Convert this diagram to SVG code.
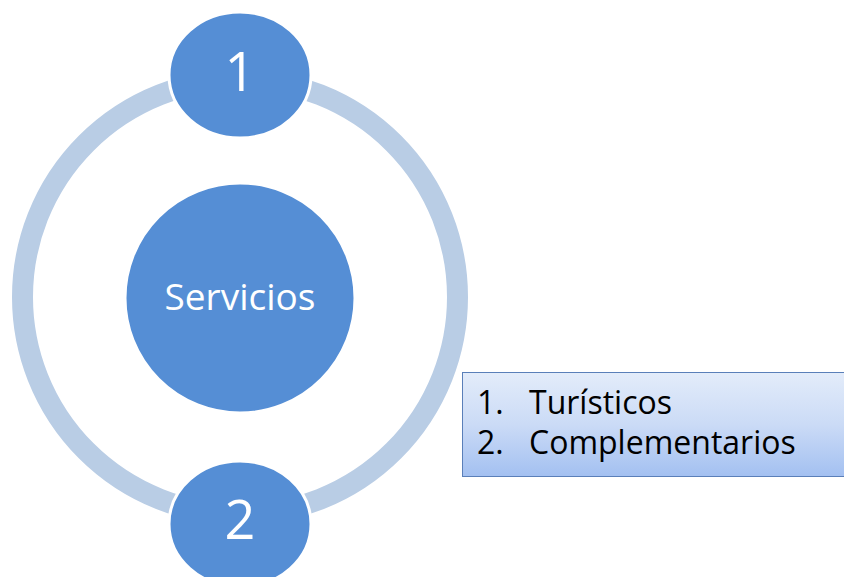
<svg xmlns="http://www.w3.org/2000/svg" width="844" height="577" viewBox="0 0 844 577">
<defs>
<linearGradient id="boxg" x1="0" y1="0" x2="0" y2="1">
<stop offset="0" stop-color="#E3ECFA"/>
<stop offset="0.5" stop-color="#CBDBF6"/>
<stop offset="1" stop-color="#A3C0F1"/>
</linearGradient>
</defs>
<style>
.circ{fill:#558ED5;stroke:#FFFFFF;stroke-width:3}
.wt{fill:#FFFFFF;font-family:"Open Sans","Liberation Sans",sans-serif;text-anchor:middle}
.bt{fill:#000000;font-family:"Open Sans","Liberation Sans",sans-serif;font-size:32px}
</style>
<rect width="844" height="577" fill="#FFFFFF"/>
<g id="connectors">
<circle cx="240" cy="297" r="217.5" fill="none" stroke="#B9CDE5" stroke-width="21"/>
</g>
<g id="node-servicios">
<circle class="circ" cx="240" cy="298" r="115" stroke="none"/>
<text class="wt" x="240" y="310" font-size="37">Servicios</text>
</g>
<g id="node-1">
<ellipse class="circ" cx="240" cy="75" rx="71" ry="63"/>
<text class="wt" x="240" y="91" font-size="54">1</text>
</g>
<g id="node-2">
<ellipse class="circ" cx="240" cy="524" rx="71" ry="63"/>
<text class="wt" x="240" y="539" font-size="54">2</text>
</g>
<g id="node-list">
<rect x="462.5" y="372.5" width="390" height="104" fill="url(#boxg)" stroke="#5A7FB9" stroke-width="1"/>
<text class="bt" x="477" y="414">1.</text>
<text class="bt" x="529" y="414">Turísticos</text>
<text class="bt" x="477" y="454">2.</text>
<text class="bt" x="529" y="454">Complementarios</text>
</g>
</svg>
